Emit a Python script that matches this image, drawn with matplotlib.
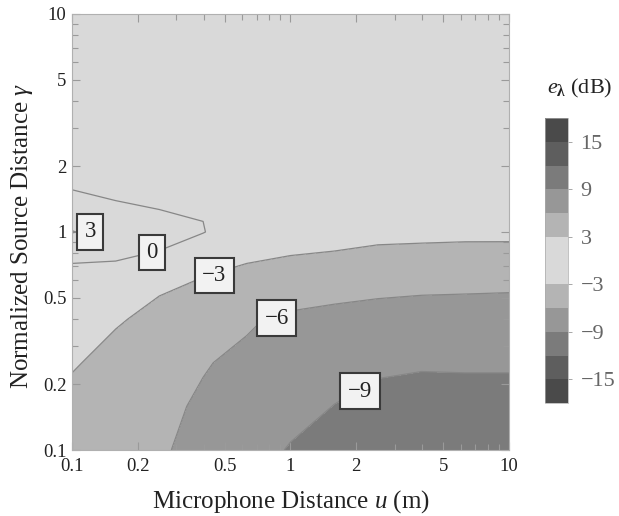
import numpy as np
import matplotlib
matplotlib.use("Agg")
import matplotlib.pyplot as plt
from matplotlib.ticker import FixedLocator, FixedFormatter, LogLocator, NullFormatter

plt.rcParams['font.family'] = ['Liberation Serif', 'DejaVu Serif']
plt.rcParams['mathtext.fontset'] = 'custom'
plt.rcParams['mathtext.rm'] = 'Liberation Serif'
plt.rcParams['mathtext.it'] = 'Liberation Serif:italic'
plt.rcParams['mathtext.bf'] = 'Liberation Serif:bold'

# ---- data ----
log_u = [-1.0, -0.8, -0.6, -0.4, -0.2, 0.0, 0.2, 0.4, 0.6, 0.8, 1.0]      # log10 microphone distance
log_gamma = [-1.0, -0.8, -0.6, -0.4, -0.2, 0.0, 0.2, 0.4, 0.6, 0.8, 1.0]  # log10 normalized source distance
# e_lambda (dB); rows follow log_gamma, columns follow log_u
e_row_m10 = [-4.9, -5.4, -5.7, -6.8, -7.8, -9.2, -10.0, -10.5, -10.8, -11.0, -11.0]
e_row_m08 = [-4.0, -4.9, -5.5, -6.3, -7.2, -8.1, -9.05, -9.7, -10.0, -10.0, -10.0]
e_row_m06 = [-2.7, -4.03, -4.8, -5.85, -6.5, -7.3, -8.0, -8.6, -8.75, -8.7, -8.7]
e_row_m04 = [-1.9, -2.7, -3.8, -4.4, -5.7, -6.5, -7.1, -7.6, -7.7, -7.5, -7.4]
e_row_m02 = [-1.2, -1.0, -2.3, -2.95, -3.62, -3.85, -3.9, -4.2, -4.6, -4.9, -5.1]
e_row_p00 = [3.1, 2.0, 1.7, 0.08, -1.4, -2.0, -2.3, -2.5, -2.45, -2.45, -2.4]
e_row_p02 = [-0.1, -0.78, -1.6, -0.25, -1.7, -1.8, -1.8, -1.8, -1.75, -1.7, -1.7]
e_row_p04 = [-0.8, -1.0, -1.5, -1.6, -1.65, -1.7, -1.6, -1.55, -1.5, -1.45, -1.45]
e_row_p06 = [-1.1, -1.2, -1.5, -1.6, -1.65, -1.6, -1.5, -1.45, -1.4, -1.35, -1.35]
e_row_p08 = [-1.3, -1.35, -1.5, -1.6, -1.65, -1.6, -1.45, -1.4, -1.35, -1.3, -1.3]
e_row_p10 = [-1.4, -1.45, -1.55, -1.6, -1.65, -1.6, -1.4, -1.35, -1.3, -1.25, -1.25]

levels = [-18, -15, -12, -9, -6, -3, 0, 3, 6, 9, 12, 15, 18]
band_colors = ['#4a4a4a', '#5e5e5e', '#7b7b7b', '#979797', '#b4b4b4', '#d9d9d9',
               '#d9d9d9', '#b4b4b4', '#979797', '#7b7b7b', '#5e5e5e', '#4a4a4a']
cbar_ticks = [-15, -9, -3, 3, 9, 15]
axis_ticks = [0.1, 0.2, 0.5, 1, 2, 5, 10]
axis_tick_labels = ['0.1', '0.2', '0.5', '1', '2', '5', '10']

label_levels = [3, 0, -3, -6, -9]
label_u = [0.121, 0.232, 0.447, 0.867, 2.08]
label_gamma = [1.0, 0.805, 0.632, 0.402, 0.186]

Z = np.array([e_row_m10, e_row_m08, e_row_m06, e_row_m04, e_row_m02, e_row_p00,
              e_row_p02, e_row_p04, e_row_p06, e_row_p08, e_row_p10])

fig = plt.figure(figsize=(6.19, 5.16), dpi=100)
ax = fig.add_axes([0.1163, 0.1279, 0.706, 0.845])
ax.set_xscale('log')
ax.set_yscale('log')
ax.set_xlim(0.1, 10)
ax.set_ylim(0.1, 10)
ax.set_autoscale_on(False)

# grid is given in log10 coordinates: draw through the axes' own log scale
log_tr = ax.transLimits + ax.transAxes
cf = ax.contourf(log_u, log_gamma, Z, levels=levels, colors=band_colors, transform=log_tr)
cl = ax.contour(log_u, log_gamma, Z, levels=levels, colors='#878787', linewidths=0.9,
                linestyles='solid', negative_linestyles='solid', transform=log_tr)
ax.set_xlim(0.1, 10)
ax.set_ylim(0.1, 10)

for axis in (ax.xaxis, ax.yaxis):
    axis.set_major_locator(FixedLocator(axis_ticks))
    axis.set_major_formatter(FixedFormatter(axis_tick_labels))
    axis.set_minor_locator(LogLocator(base=10, subs=np.arange(2, 10)))
    axis.set_minor_formatter(NullFormatter())

ax.tick_params(which='both', direction='in', top=True, right=True, color='#9a9a9a',
               labelsize=13.5, labelcolor='#222222')
ax.tick_params(which='major', length=6, width=0.8)
ax.tick_params(which='minor', length=4, width=0.8)
ax.tick_params(axis='x', pad=6)
ax.tick_params(axis='y', pad=4)
for sp in ax.spines.values():
    sp.set_color('#b0b0b0')
    sp.set_linewidth(0.8)

ax.set_xlabel('Microphone Distance $u$ (m)', fontsize=18, color='#222222')
ax.set_ylabel('Normalized Source Distance $\\gamma$', fontsize=18, color='#222222')
ax.xaxis.set_label_coords(0.5, -0.088)
ax.yaxis.set_label_coords(-0.085, 0.49)

# contour labels, boxed as in the reference
for lev, u, g in zip(label_levels, label_u, label_gamma):
    ax.text(u, g, f'{lev:d}'.replace('-', '\u2212'), fontsize=16.5, color='#222222',
            ha='center', va='center', zorder=5,
            bbox=dict(boxstyle='square,pad=0.32', facecolor='#f2f2f2',
                      edgecolor='#3a3a3a', linewidth=1.5))

cax = fig.add_axes([0.8805, 0.219, 0.0372, 0.552])
cb = fig.colorbar(cf, cax=cax, ticks=cbar_ticks)
cb.outline.set_edgecolor('#aaaaaa')
cb.outline.set_linewidth(0.5)
cax.tick_params(labelsize=16, labelcolor='#666666', color='#999999', length=3, width=0.6, pad=6)
fig.text(0.937, 0.829, '$e_{\\mathbf{\\lambda}}$ (dB)', fontsize=16, color='#222222',
         ha='center', va='center')

fig.savefig('out.png', dpi=100)
